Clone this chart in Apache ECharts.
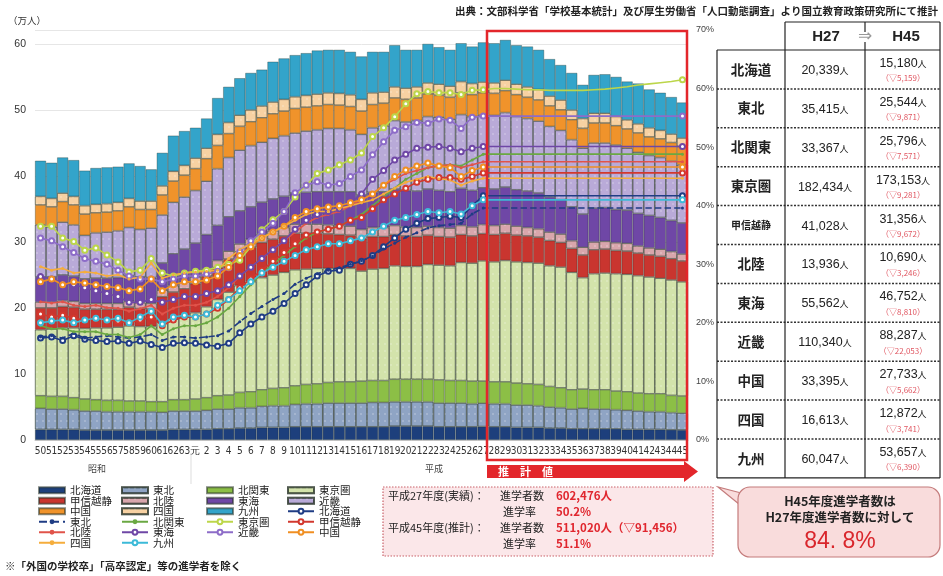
<!DOCTYPE html>
<html>
<head>
<meta charset="utf-8">
<script src="https://cdn.jsdelivr.net/npm/echarts@6/dist/echarts.min.js"></script>
<style>
  html, body { margin: 0; padding: 0; background: #fff; }
  #chart { width: 943px; height: 576px; }
</style>
</head>
<body>
<div id="chart"></div>
<script>
// 年度（昭和50〜63、平成元〜45）
const years = ['50','51','52','53','54','55','56','57','58','59','60','61','62','63',
  '元','2','3','4','5','6','7','8','9','10','11','12','13','14','15','16','17','18','19','20',
  '21','22','23','24','25','26','27','28','29','30','31','32','33','34','35','36','37','38','39','40',
  '41','42','43','44','45'];

// 進学者数（万人）
const hokkaido = [1.6,1.6,1.6,1.6,1.5,1.5,1.5,1.5,1.5,1.5,1.5,1.5,1.6,1.6,
  1.6,1.6,1.7,1.7,1.8,1.8,1.9,1.9,1.9,2.0,2.0,2.0,2.0,2.0,
  2.0,2.0,2.0,2.0,2.1,2.1,2.1,2.1,2.0,2.0,2.0,2.0,2.03,
  2.0,2.0,1.9,1.9,1.9,1.8,1.8,1.7,1.7,1.7,1.7,1.7,1.6,1.6,1.6,1.6,1.55,1.52];
const tohoku = [3.2,3.1,3.1,3.0,2.9,2.9,2.8,2.8,2.8,2.8,2.8,2.7,2.8,2.8,
  2.8,2.9,3.0,3.0,3.1,3.1,3.2,3.3,3.3,3.4,3.5,3.5,3.6,3.6,
  3.6,3.6,3.7,3.7,3.7,3.7,3.7,3.7,3.6,3.6,3.6,3.5,3.54,
  3.5,3.5,3.4,3.4,3.3,3.2,3.1,3.0,3.1,3.0,3.0,2.9,2.9,2.8,2.7,2.7,2.6,2.55];
const kitakanto = [1.9,1.9,1.9,1.8,1.8,1.7,1.7,1.7,1.6,1.6,1.5,1.6,1.7,1.7,
  1.8,1.9,2.0,2.1,2.3,2.4,2.5,2.6,2.7,2.8,2.9,3.0,3.1,3.2,
  3.2,3.3,3.3,3.3,3.4,3.4,3.4,3.4,3.5,3.4,3.4,3.4,3.34,
  3.3,3.3,3.3,3.2,3.2,3.1,3.0,2.9,2.9,2.9,2.9,2.8,2.8,2.7,2.7,2.7,2.6,2.58];
const tokyo = [10.0,10.2,10.4,10.6,10.7,10.9,11.0,11.1,11.4,11.3,11.4,12.1,12.2,12.5,
  13.1,13.8,14.6,15.6,16.2,16.7,17.0,17.2,17.5,17.6,17.5,17.5,17.3,17.2,
  17.2,16.7,16.9,17.0,17.2,17.1,17.1,17.4,17.4,17.4,17.9,17.9,18.24,
  18.2,18.4,18.4,18.4,18.4,18.3,18.3,17.8,16.9,17.6,17.7,17.8,17.8,17.8,17.7,17.5,17.5,17.32];
const koshinetsu = [3.3,3.2,3.2,3.1,2.9,2.8,2.8,2.7,2.8,2.7,2.6,3.8,4.1,4.3,
  4.4,4.6,4.8,5.0,5.1,5.2,5.3,5.4,5.5,5.5,5.4,5.3,5.2,5.1,
  5.0,4.9,4.9,4.8,4.7,4.6,4.5,4.4,4.3,4.3,4.2,4.1,4.10,
  4.1,4.1,4.0,4.0,3.9,3.8,3.7,3.6,3.4,3.6,3.6,3.5,3.5,3.4,3.3,3.3,3.2,3.14];
const hokuriku = [0.9,0.9,0.9,0.9,0.9,0.9,0.9,0.9,0.9,0.9,0.9,1.0,1.0,1.0,
  1.0,1.1,1.1,1.2,1.2,1.2,1.3,1.3,1.3,1.4,1.4,1.4,1.4,1.4,
  1.4,1.4,1.4,1.4,1.4,1.4,1.4,1.4,1.4,1.4,1.4,1.4,1.39,
  1.4,1.4,1.4,1.3,1.3,1.3,1.3,1.2,1.2,1.2,1.2,1.2,1.2,1.1,1.1,1.1,1.1,1.07];
const tokai = [3.8,3.8,3.9,3.8,3.7,3.8,3.8,3.9,3.9,3.9,3.9,4.1,4.8,5.0,
  5.1,5.2,5.3,5.2,5.0,4.9,4.8,4.8,4.7,4.7,4.8,4.9,5.0,5.1,
  5.2,5.2,5.3,5.4,5.5,5.5,5.5,5.6,5.6,5.5,5.6,5.5,5.56,
  5.5,5.6,5.5,5.5,5.4,5.3,5.2,5.1,5.0,5.1,5.1,5.0,5.0,4.9,4.9,4.8,4.7,4.68];
const kinki = [7.9,7.6,8.0,7.8,6.6,6.9,7.0,7.1,7.3,7.2,7.5,7.3,7.8,7.9,
  8.0,8.1,8.6,9.0,9.2,9.3,9.1,9.2,9.2,9.1,9.3,9.4,9.6,9.6,
  9.4,9.2,9.8,10.0,10.4,10.4,10.7,11.0,11.1,11.0,11.2,11.2,11.03,
  11.2,11.3,11.1,11.0,10.9,10.7,10.5,10.2,10.0,9.9,9.8,9.8,9.4,9.3,9.1,9.1,9.0,8.83];
const chugoku = [3.0,3.0,3.1,3.0,3.2,3.0,3.0,3.0,3.1,3.0,2.8,3.0,3.2,3.3,
  3.3,3.4,3.5,3.6,3.6,3.6,3.7,3.7,3.7,3.7,3.6,3.6,3.6,3.5,
  3.5,3.5,3.5,3.4,3.4,3.4,3.4,3.4,3.3,3.3,3.3,3.3,3.34,
  3.3,3.3,3.3,3.2,3.2,3.1,3.1,3.0,3.0,3.0,3.0,2.9,2.9,2.9,2.8,2.8,2.8,2.77];
const shikoku = [1.3,1.3,1.3,1.3,1.3,1.3,1.3,1.3,1.3,1.3,1.3,1.4,1.5,1.5,
  1.6,1.6,1.7,1.7,1.7,1.8,1.8,1.8,1.8,1.8,1.8,1.8,1.8,1.8,
  1.8,1.8,1.8,1.7,1.7,1.7,1.7,1.7,1.7,1.7,1.7,1.7,1.66,
  1.6,1.6,1.6,1.6,1.6,1.5,1.5,1.5,1.5,1.5,1.5,1.4,1.4,1.4,1.4,1.3,1.3,1.29];
const kyushu = [5.4,5.4,5.4,5.5,5.3,5.5,5.5,5.4,5.3,5.3,4.8,5.0,5.4,5.2,
  4.6,4.5,5.5,5.4,5.6,5.6,5.5,6.1,6.2,6.3,6.4,6.6,6.5,6.6,
  6.5,6.5,6.2,6.1,6.3,5.8,5.6,5.9,5.6,5.5,5.8,5.6,6.00,
  6.0,6.1,5.9,6.1,6.0,5.6,5.3,5.6,5.1,5.8,5.9,6.0,5.8,6.1,5.8,5.7,5.6,5.37];

// 進学率（%）
const hokkaidoRate = [17.4,17.6,17.0,17.8,17.2,17.0,16.8,16.9,16.5,16.9,16.3,15.8,16.5,16.6,
  16.5,16.2,16.0,16.5,18.3,19.8,21.0,22.0,23.3,25.0,26.5,28.0,28.8,29.0,
  30.0,30.5,31.5,33.0,34.5,36.0,37.0,37.8,38.0,38.2,38.0,40.0,41.7,
  41.7,41.7,41.7,41.7,41.7,41.7,41.7,41.7,41.7,41.7,41.7,41.7,41.7,41.7,41.7,41.7,41.7,41.7];
const tohokuRate = [17.6,17.8,17.4,18.2,17.4,17.6,17.8,17.6,17.4,17.6,18.0,17.0,17.6,17.6,
  17.4,17.6,17.8,18.6,20.2,21.6,22.8,24.0,25.0,26.6,27.6,28.4,29.0,29.4,
  30.0,30.6,31.4,32.6,33.6,34.6,35.4,36.2,36.6,36.8,37.0,38.6,39.6,
  39.6,39.6,39.6,39.6,39.6,39.6,39.6,39.6,39.6,39.6,39.6,39.6,39.6,39.6,39.6,39.6,39.6,39.6];
const kitakantoRate = [19.5,19.0,19.0,18.5,18.5,18.5,18.0,18.0,17.5,18.0,19.5,18.0,19.0,19.5,
  19.5,20.0,21.0,22.5,24.5,26.5,28.5,30.0,31.5,33.0,34.5,35.5,36.0,36.5,
  37.5,38.5,40.0,41.5,43.0,44.5,45.5,46.5,46.8,47.0,46.8,47.8,48.8,
  48.8,48.8,48.8,48.8,48.8,48.8,48.8,48.8,48.8,48.8,48.8,48.8,48.8,48.8,48.8,48.8,48.8,48.8];
const tokyoRate = [36.5,36.5,34.5,33.9,32.4,32.8,31.6,30.4,28.7,29.0,31.0,28.5,28.0,28.5,
  28.8,29.0,29.5,30.0,30.7,33.0,35.9,37.6,39.0,41.5,43.5,45.5,46.1,47.0,
  47.8,49.0,51.8,53.3,55.2,57.4,59.1,59.5,59.3,59.3,59.0,59.7,59.8,
  60.0,60.0,59.9,59.8,59.8,59.7,59.7,59.7,59.7,59.8,59.9,60.1,60.3,60.6,60.8,61.0,61.2,61.5];
const koshinetsuRate = [21.5,21.0,21.3,20.8,20.5,20.8,20.5,20.3,20.0,20.5,21.0,19.5,20.5,21.0,
  21.0,21.5,22.5,24.0,26.0,27.5,29.0,30.5,32.0,33.5,35.0,35.5,36.0,36.5,
  37.5,38.0,39.5,41.0,42.0,43.0,44.0,44.5,44.8,44.8,44.5,45.0,45.6,
  45.6,45.6,45.6,45.6,45.6,45.6,45.6,45.6,45.6,45.6,45.6,45.6,45.6,45.6,45.6,45.6,45.6,45.6];
const hokurikuRate = [23.6,23.4,23.6,23.0,22.8,23.0,22.6,22.5,22.0,22.4,23.0,21.5,22.5,23.0,
  23.0,23.5,24.5,26.0,28.0,29.5,31.0,32.5,34.0,35.5,37.0,38.0,38.5,39.0,
  40.0,41.0,42.0,43.5,44.5,45.5,46.0,46.5,46.8,47.0,46.5,47.0,47.5,
  47.5,47.5,47.5,47.5,47.5,47.5,47.5,47.5,47.5,47.5,47.5,47.5,47.5,47.5,47.5,47.5,47.5,47.5];
const tokaiRate = [27.9,27.5,26.8,26.5,26.0,25.5,25.0,24.5,23.5,23.5,24.0,23.5,24.0,24.5,
  24.5,25.0,25.5,26.5,28.0,29.5,31.0,32.5,34.0,36.0,37.5,38.5,39.0,39.5,
  40.5,42.0,44.5,46.0,47.8,48.8,49.8,50.0,50.1,49.8,49.2,49.8,50.1,
  50.1,50.1,50.1,50.1,50.1,50.1,50.1,50.1,50.1,50.1,50.1,50.1,50.1,50.1,50.1,50.1,50.1,50.1];
const kinkiRate = [34.5,34.0,33.0,32.0,31.0,30.5,30.0,29.0,28.0,27.5,27.5,27.0,27.5,28.0,
  28.0,28.3,28.8,29.4,32.1,34.0,35.5,37.0,39.0,42.2,43.5,44.1,43.5,43.8,
  45.0,46.1,48.7,50.9,52.9,53.5,54.2,54.1,54.8,54.6,53.2,55.1,55.3,
  55.3,55.3,55.3,55.3,55.3,55.3,55.3,55.3,55.3,55.3,55.3,55.3,55.3,55.3,55.3,55.3,55.3,55.3];
const chugokuRate = [27.0,27.5,26.5,27.0,26.8,26.5,26.2,26.0,25.5,25.8,27.5,25.5,26.5,27.0,
  27.0,27.3,28.0,29.5,31.5,33.0,34.5,35.5,36.5,38.0,39.0,39.5,39.8,40.0,
  40.5,41.0,42.0,43.5,45.0,46.1,46.8,47.3,46.8,46.5,45.0,46.0,46.6,
  46.6,46.6,46.6,46.6,46.6,46.6,46.6,46.6,46.6,46.6,46.6,46.6,46.6,46.6,46.6,46.6,46.6,46.6];
const shikokuRate = [29.6,29.0,29.3,28.5,28.7,28.5,28.0,28.2,27.5,27.8,30.2,27.6,28.2,28.5,
  28.7,28.8,29.0,31.0,32.5,33.5,34.5,35.5,36.5,37.5,38.5,39.0,39.0,39.5,
  40.0,40.5,41.0,42.0,43.0,44.0,44.5,45.0,44.6,44.4,43.5,44.2,44.7,
  44.7,44.7,44.7,44.7,44.7,44.7,44.7,44.7,44.7,44.7,44.7,44.7,44.7,44.7,44.7,44.7,44.7,44.7];
const kyushuRate = [20.0,20.3,20.5,20.0,20.5,20.8,20.5,20.8,20.0,21.0,22.0,19.8,21.0,21.3,
  21.0,21.5,23.0,24.0,25.5,27.0,28.5,29.5,30.5,31.5,32.5,33.0,33.5,33.5,
  34.0,34.5,35.5,36.5,37.5,38.0,38.5,39.0,38.8,39.0,38.6,40.0,41.0,
  41.0,41.0,41.0,41.0,41.0,41.0,41.0,41.0,41.0,41.0,41.0,41.0,41.0,41.0,41.0,41.0,41.0,41.0];

// 右の表
const tblRegions = ['北海道','東北','北関東','東京圏','甲信越静','北陸','東海','近畿','中国','四国','九州'];
const tblH27 = ['20,339','35,415','33,367','182,434','41,028','13,936','55,562','110,340','33,395','16,613','60,047'];
const tblH45 = ['15,180','25,544','25,796','173,153','31,356','10,690','46,752','88,287','27,733','12,872','53,657'];
const tblDiff = ['5,159','9,871','7,571','9,281','9,672','3,246','8,810','22,053','5,662','3,741','6,390'];

const JP = "'Noto Sans CJK JP', sans-serif";
const ZW = '\u200b'; // 折れ線の系列名を棒と区別する
const regions = ['北海道','東北','北関東','東京圏','甲信越静','北陸','東海','近畿','中国','四国','九州'];
const barData = [hokkaido, tohoku, kitakanto, tokyo, koshinetsu, hokuriku, tokai, kinki, chugoku, shikoku, kyushu];
const barColors = ['#1d3f7c','#8fa4c4','#8cbf46','#d3e3ab','#c9352f','#d8a6ac','#6f47a6','#b9aad8','#f0932b','#f7d1a2','#33a4ca'];
const dotted = [false, true, false, true, false, true, false, true, false, true, false];

const rateData = [hokkaidoRate, tohokuRate, kitakantoRate, tokyoRate, koshinetsuRate, hokurikuRate,
  tokaiRate, kinkiRate, chugokuRate, shikokuRate, kyushuRate];
const rateColors = ['#1f3c84','#1f3c84','#6aa842','#bcd64a','#d2382e','#e0534a','#6f47a6','#8d6cc8','#f08f22','#f5ad3c','#3cbad8'];
const rateCircle = [true, false, false, true, true, false, true, true, true, false, true];

const series = [];
regions.forEach((name, k) => {
  series.push({
    name: name,
    type: 'bar',
    stack: 'all',
    barWidth: '100%',
    data: barData[k],
    itemStyle: {
      color: barColors[k],
      borderColor: 'rgba(35,45,35,0.55)',
      borderWidth: 0.6,
      decal: dotted[k] ? {
        symbol: 'circle', symbolSize: 0.7, color: 'rgba(255,255,255,0.55)',
        dashArrayX: [2, 4], dashArrayY: [2, 5]
      } : null
    }
  });
});
regions.forEach((name, k) => {
  series.push({
    name: name + ZW,
    type: 'line',
    yAxisIndex: 1,
    z: 5,
    symbol: rateCircle[k] ? 'emptyCircle' : 'circle',
    symbolSize: rateCircle[k] ? 5 : 3,
    // 推計期間は点を省き、最後だけ印を付ける
    data: rateData[k].map((v, i) => (i > 40 && i < 58) ? { value: v, symbol: 'none' } : v),
    lineStyle: { color: rateColors[k], width: 1.6, type: k === 1 ? 'dashed' : 'solid' },
    itemStyle: { color: rateColors[k], borderWidth: 1.5 }
  });
});

const bar = n => ({ name: n, icon: 'rect' });
const line = n => ({ name: n + ZW });
const legendCols = [
  { left: 38, data: [bar('北海道'), bar('甲信越静'), bar('中国'), line('東北'), line('北陸'), line('四国')] },
  { left: 121, data: [bar('東北'), bar('北陸'), bar('四国'), line('北関東'), line('東海'), line('九州')] },
  { left: 206, data: [bar('北関東'), bar('東海'), bar('九州'), line('東京圏'), line('近畿')] },
  { left: 287, data: [bar('東京圏'), bar('近畿'), line('北海道'), line('甲信越静'), line('中国')] }
];
const legends = legendCols.map(c => ({
  orient: 'vertical', left: c.left, top: 485, padding: 0, itemGap: 0,
  itemWidth: 26, itemHeight: 6,
  data: c.data,
  formatter: n => n.replace(ZW, ''),
  textStyle: { fontFamily: JP, fontSize: 10.5, lineHeight: 10, color: '#222' }
}));

function T(x, y, text, o) {
  return { type: 'text', x: x, y: y, z: 60,
    style: Object.assign({ text: text, fontFamily: JP, fontSize: 11, fill: '#222',
      align: 'left', verticalAlign: 'middle' }, o || {}) };
}
function L(x1, y1, x2, y2, o) {
  return { type: 'line', z: 58, shape: { x1: x1, y1: y1, x2: x2, y2: y2 },
    style: Object.assign({ stroke: '#222', lineWidth: 1 }, o || {}) };
}

const graphic = [];
// 出典
graphic.push(T(938, 11, '出典：文部科学省「学校基本統計」及び厚生労働省「人口動態調査」より国立教育政策研究所にて推計',
  { align: 'right', fontSize: 10.5, fontWeight: 'bold' }));
graphic.push(T(8, 20, '（万人）', { fontSize: 9.5, fill: '#333' }));
// 推計値の枠と矢印
graphic.push({ type: 'rect', z: 55, shape: { x: 487, y: 31, width: 200, height: 429 },
  style: { fill: 'none', stroke: '#e3262b', lineWidth: 2.5 } });
graphic.push({ type: 'polygon', z: 55,
  shape: { points: [[487, 465], [684, 465], [684, 461], [698, 471.5], [684, 482], [684, 478], [487, 478]] },
  style: { fill: '#e3262b' } });
graphic.push(T(498, 471.5, '推　計　値', { fill: '#fff', fontSize: 11, fontWeight: 'bold' }));
// 元号
graphic.push(T(97, 469, '昭和', { align: 'center', fontSize: 9, fill: '#444' }));
graphic.push(T(434, 469, '平成', { align: 'center', fontSize: 9, fill: '#444' }));
graphic.push(L(191, 453, 191, 484, { stroke: '#dddddd' }));

// 表
const tx0 = 717, tx1 = 785, tx2 = 865, tx3 = 940, ty0 = 50, rowH = 38.9;
const ty1 = ty0 + rowH * tblRegions.length;
graphic.push(L(tx1, 22, tx3, 22, { lineWidth: 1.2 }));
graphic.push(L(tx1, 22, tx1, ty0, { lineWidth: 1.2 }));
graphic.push(L(tx2, 22, tx2, ty0, { lineWidth: 1.2 }));
graphic.push(L(tx3, 22, tx3, ty0, { lineWidth: 1.2 }));
graphic.push(T(826, 37, 'H27', { align: 'center', fontSize: 15, fontWeight: 'bold', fontFamily: 'Liberation Sans, sans-serif' }));
graphic.push(T(906, 37, 'H45', { align: 'center', fontSize: 15, fontWeight: 'bold', fontFamily: 'Liberation Sans, sans-serif' }));
graphic.push({ type: 'rect', z: 59, shape: { x: 853, y: 32, width: 24, height: 10 }, style: { fill: '#fff' } });
graphic.push(T(865, 37, '⇒', { align: 'center', fontSize: 17, fill: '#999', fontFamily: 'DejaVu Sans, sans-serif' }));
for (let i = 0; i <= tblRegions.length; i++) {
  const y = ty0 + rowH * i;
  const edge = i === 0 || i === tblRegions.length;
  graphic.push(L(tx0, y, tx3, y, edge ? { lineWidth: 1.2 } : { lineWidth: 1.5, lineDash: [2, 1.5], stroke: '#333' }));
}
[tx0, tx1, tx2, tx3].forEach(x => graphic.push(L(x, ty0, x, ty1, { lineWidth: 1.2 })));
tblRegions.forEach((name, i) => {
  const cy = ty0 + rowH * i + rowH / 2;
  graphic.push(T(751, cy, name, { align: 'center', fontSize: name.length > 3 ? 10 : 13.5, fontWeight: 'bold', fill: '#222' }));
  graphic.push(T(825, cy + 1, '{a|' + tblH27[i] + '}{b|人}', { align: 'center',
    rich: { a: { fontSize: 12.5, fill: '#222', fontFamily: 'Liberation Sans, sans-serif' }, b: { fontSize: 9, fill: '#222', fontFamily: JP } } }));
  graphic.push(T(903, cy - 6, '{a|' + tblH45[i] + '}{b|人}', { align: 'center',
    rich: { a: { fontSize: 12.5, fill: '#222', fontFamily: 'Liberation Sans, sans-serif' }, b: { fontSize: 9, fill: '#222', fontFamily: JP } } }));
  graphic.push(T(903, cy + 9, '（▽' + tblDiff[i] + '）', { align: 'center', fontSize: 8, fill: '#e05661' }));
});

// 実績・推計の囲み
graphic.push({ type: 'rect', z: 50, shape: { x: 383, y: 487, width: 330, height: 69 },
  style: { fill: '#fbe7e9', stroke: '#c9626a', lineWidth: 1.2, lineDash: [1.5, 1.5] } });
const red = { fill: '#e0262e', fontWeight: 'bold' };
graphic.push(T(388, 496, '平成27年度(実績)：', { fontSize: 11 }));
graphic.push(T(500, 496, '進学者数', { fontSize: 11 }));
graphic.push(T(556, 496, '602,476人', Object.assign({ fontSize: 11.5 }, red)));
graphic.push(T(503, 512, '進学率', { fontSize: 11 }));
graphic.push(T(556, 512, '50.2%', Object.assign({ fontSize: 11.5 }, red)));
graphic.push(T(388, 528, '平成45年度(推計)：', { fontSize: 11 }));
graphic.push(T(500, 528, '進学者数', { fontSize: 11 }));
graphic.push(T(556, 528, '511,020人（▽91,456）', Object.assign({ fontSize: 11.5 }, red)));
graphic.push(T(503, 544, '進学率', { fontSize: 11 }));
graphic.push(T(556, 544, '51.1%', Object.assign({ fontSize: 11.5 }, red)));

// 吹き出し
graphic.push({ type: 'polygon', z: 50, shape: { points: [[745, 494], [718, 487], [745, 509]] },
  style: { fill: '#f9dcdc', stroke: '#c47b7b', lineWidth: 1.2 } });
graphic.push({ type: 'rect', z: 51, shape: { x: 738, y: 487, width: 202, height: 70, r: 12 },
  style: { fill: '#f9dcdc', stroke: '#c47b7b', lineWidth: 1.2 } });
graphic.push({ type: 'polygon', z: 52, shape: { points: [[739.5, 495], [745, 495], [745, 508], [739.5, 508]] },
  style: { fill: '#f9dcdc' } });
graphic.push(T(840, 501, 'H45年度進学者数は', { align: 'center', fontSize: 12.5, fontWeight: 'bold' }));
graphic.push(T(840, 517, 'H27年度進学者数に対して', { align: 'center', fontSize: 12.5, fontWeight: 'bold' }));
graphic.push(T(840, 542, '84. 8%', { align: 'center', fontSize: 23, fill: '#d9262c', fontFamily: 'Liberation Sans, sans-serif' }));

// 注記
graphic.push(T(5, 566, '※「外国の学校卒」「高卒認定」等の進学者を除く', { fontSize: 10.5, fontWeight: 'bold', fill: '#222' }));

const chart = echarts.init(document.getElementById('chart'));
chart.setOption({
  animation: false,
  backgroundColor: '#fff',
  textStyle: { fontFamily: JP },
  grid: { left: 35, right: 255, top: 30, bottom: 136 },
  legend: legends,
  xAxis: {
    type: 'category',
    data: years,
    axisTick: { show: false },
    axisLine: { lineStyle: { color: '#cccccc' } },
    axisLabel: {
      interval: 0, margin: 6, fontSize: 10, color: '#333',
      fontFamily: "'Liberation Sans Narrow', 'DejaVu Sans Condensed', sans-serif"
    }
  },
  yAxis: [
    {
      type: 'value', min: 0, max: 62.1, interval: 10,
      axisLine: { show: false }, axisTick: { show: false },
      axisLabel: { formatter: v => (v % 10 === 0 ? v : ''), fontSize: 10.5, color: '#333', margin: 9,
        fontFamily: 'Liberation Sans, sans-serif' },
      splitLine: { lineStyle: { color: '#e6e6e6' } }
    },
    {
      type: 'value', min: 0, max: 70, interval: 10, position: 'right',
      axisLine: { show: false }, axisTick: { show: false },
      axisLabel: { formatter: '{value}%', fontSize: 9, color: '#444', margin: 8,
        fontFamily: 'Liberation Sans, sans-serif' },
      splitLine: { show: false }
    }
  ],
  series: series,
  graphic: graphic
});
</script>
</body>
</html>
